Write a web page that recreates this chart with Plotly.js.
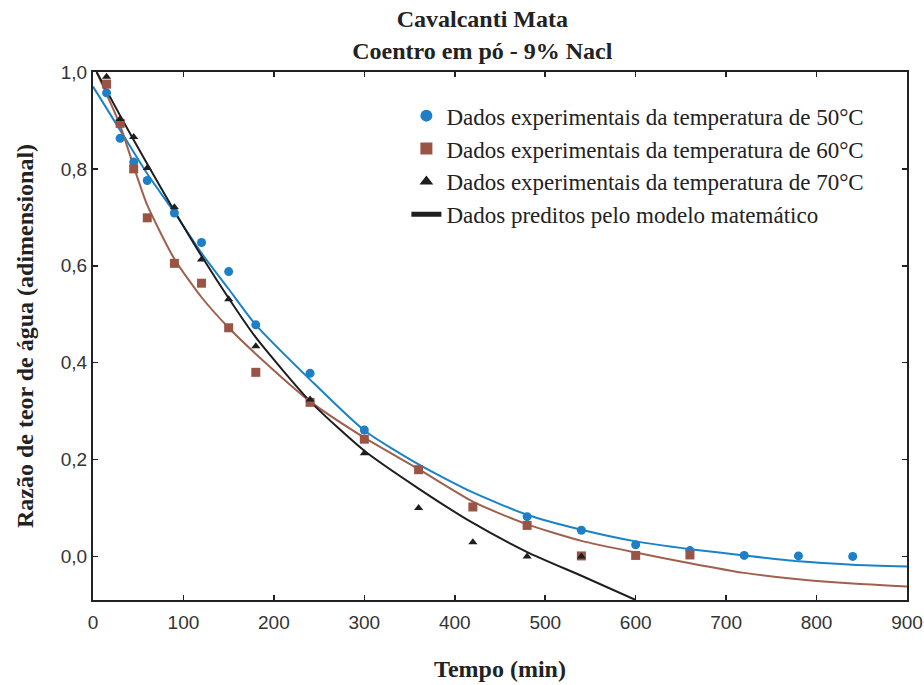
<!DOCTYPE html>
<html>
<head>
<meta charset="utf-8">
<script src="https://cdn.plot.ly/plotly-3.0.1.min.js"></script>
<style>
  html, body { margin: 0; padding: 0; background: #ffffff; }
  #chart { width: 924px; height: 685px; }
</style>
</head>
<body>
<div id="chart"></div>
<script>
// Drying of powdered coriander (9% NaCl): dimensionless moisture ratio vs time

// Experimental points, 50 °C
const tempo50 = [15, 30, 45, 60, 90, 120, 150, 180, 240, 300, 480, 540, 600, 660, 720, 780, 840];
const razao50 = [0.957, 0.863, 0.814, 0.776, 0.709, 0.648, 0.588, 0.478, 0.378, 0.261, 0.082, 0.054, 0.024, 0.012, 0.002, 0.001, 0.0];

// Experimental points, 60 °C
const tempo60 = [15, 30, 45, 60, 90, 120, 150, 180, 240, 300, 360, 420, 480, 540, 600, 660];
const razao60 = [0.975, 0.894, 0.80, 0.699, 0.605, 0.564, 0.472, 0.38, 0.318, 0.242, 0.179, 0.102, 0.064, 0.001, 0.002, 0.003];

// Experimental points, 70 °C
const tempo70 = [15, 30, 45, 60, 90, 120, 150, 180, 240, 300, 360, 420, 480, 540];
const razao70 = [0.99, 0.903, 0.866, 0.802, 0.721, 0.613, 0.531, 0.434, 0.324, 0.213, 0.10, 0.029, 0.0, 0.0];

// Model-predicted curves
const tempoModelo50 = [0, 30, 60, 90, 120, 150, 180, 240, 300, 360, 420, 480, 540, 600, 660, 720, 780, 840, 900];
const modelo50 = [0.97, 0.88, 0.79, 0.71, 0.626, 0.552, 0.478, 0.365, 0.26, 0.19, 0.132, 0.086, 0.055, 0.031, 0.015, 0.002, -0.01, -0.017, -0.021];

const tempoModelo60 = [4, 30, 45, 60, 90, 120, 150, 180, 240, 300, 360, 420, 480, 540, 600, 660, 720, 780, 840, 900];
const modelo60 = [1.0, 0.89, 0.805, 0.725, 0.614, 0.535, 0.472, 0.418, 0.32, 0.245, 0.18, 0.113, 0.066, 0.032, 0.008, -0.014, -0.034, -0.047, -0.056, -0.062];

const tempoModelo70 = [4, 30, 60, 90, 120, 150, 180, 240, 300, 360, 420, 480, 540, 600];
const modelo70 = [1.0, 0.91, 0.81, 0.713, 0.62, 0.533, 0.452, 0.32, 0.218, 0.14, 0.069, 0.009, -0.04, -0.09];

// Axis tick values
const ticksTempo = [0, 100, 200, 300, 400, 500, 600, 700, 800, 900];
const ticksRazao = [0.0, 0.2, 0.4, 0.6, 0.8, 1.0];

const legendas = [
  'Dados experimentais da temperatura de 50°C',
  'Dados experimentais da temperatura de 60°C',
  'Dados experimentais da temperatura de 70°C',
  'Dados preditos pelo modelo matemático'
];

const corAzul = '#1c7fc7';
const corMarrom = '#9a5446';
const corPreta = '#1e1e1e';

const serif = '"Liberation Serif", "Times New Roman", serif';
const sans = '"Liberation Sans", Arial, sans-serif';

const traces = [
  {
    x: tempoModelo50, y: modelo50, type: 'scatter', mode: 'lines',
    line: { color: '#1a82c8', width: 2, shape: 'spline', smoothing: 0.6 },
    showlegend: false, hoverinfo: 'skip'
  },
  {
    x: tempoModelo60, y: modelo60, type: 'scatter', mode: 'lines',
    line: { color: '#a0604f', width: 2, shape: 'spline', smoothing: 0.6 },
    showlegend: false, hoverinfo: 'skip'
  },
  {
    x: tempoModelo70, y: modelo70, type: 'scatter', mode: 'lines',
    name: legendas[3], legendrank: 4,
    line: { color: corPreta, width: 2, shape: 'spline', smoothing: 0.6 }
  },
  {
    x: tempo50, y: razao50, type: 'scatter', mode: 'markers',
    name: legendas[0], legendrank: 1,
    marker: { symbol: 'circle', size: 9, color: corAzul }
  },
  {
    x: tempo60, y: razao60, type: 'scatter', mode: 'markers',
    name: legendas[1], legendrank: 2,
    marker: { symbol: 'square', size: 9, color: corMarrom }
  },
  {
    x: tempo70, y: razao70, type: 'scatter', mode: 'markers',
    name: legendas[2], legendrank: 3,
    marker: { symbol: 'triangle-up', size: 8, color: corPreta }
  }
];

const layout = {
  width: 924,
  height: 685,
  paper_bgcolor: '#ffffff',
  plot_bgcolor: '#ffffff',
  separators: ',.',
  margin: { l: 93, r: 17, t: 72, b: 85 },
  title: {
    text: '<b>Cavalcanti Mata<br>Coentro em pó - 9% Nacl</b>',
    font: { family: serif, size: 24, color: '#222' },
    x: 0.522, xref: 'container', xanchor: 'center',
    y: 0.96, yref: 'container', yanchor: 'top'
  },
  xaxis: {
    range: [0, 900],
    tickmode: 'array', tickvals: ticksTempo,
    ticks: 'inside', ticklen: 5, tickwidth: 1.5, tickcolor: '#222',
    ticklabelstandoff: 4, ticklabeloverflow: 'allow',
    showline: true, linewidth: 2, linecolor: '#222', mirror: 'ticks',
    showgrid: false, zeroline: false,
    tickfont: { family: sans, size: 19, color: '#333' },
    title: { text: '<b>Tempo (min)</b>', font: { family: serif, size: 24, color: '#222' }, standoff: 28 }
  },
  yaxis: {
    range: [-0.09, 1.0],
    tickmode: 'array', tickvals: ticksRazao, tickformat: '.1f',
    ticks: 'inside', ticklen: 5, tickwidth: 1.5, tickcolor: '#222',
    showline: true, linewidth: 2, linecolor: '#222', mirror: 'ticks',
    showgrid: false, zeroline: false,
    tickfont: { family: sans, size: 19, color: '#333' },
    title: { text: '<b>Razão de teor de água (adimensional)</b>', font: { family: serif, size: 24, color: '#222' }, standoff: 20 }
  },
  legend: {
    x: 0.385, xanchor: 'left',
    y: 0.958, yanchor: 'top',
    bgcolor: 'rgba(255,255,255,0)',
    borderwidth: 0,
    font: { family: serif, size: 23, color: '#222' },
    itemsizing: 'constant'
  },
  showlegend: true
};

Plotly.newPlot('chart', traces, layout, { staticPlot: true, displayModeBar: false });
</script>
</body>
</html>
